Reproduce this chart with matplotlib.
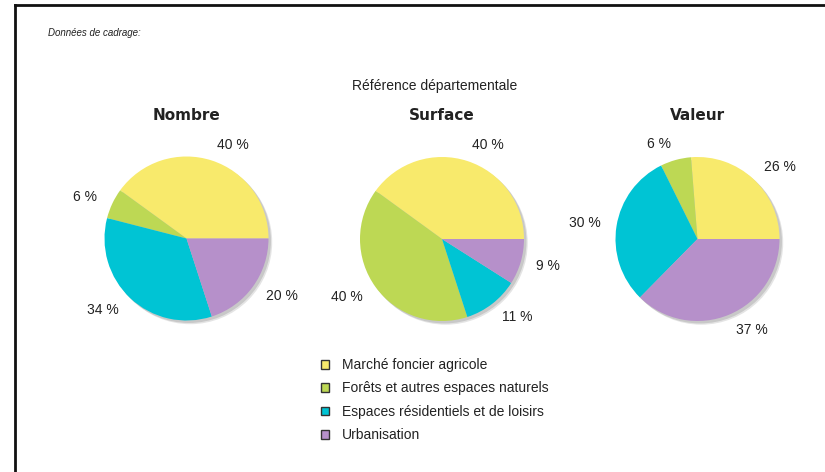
import matplotlib
matplotlib.use("Agg")
import matplotlib.pyplot as plt
from matplotlib.patches import Circle
from matplotlib.lines import Line2D

# Data
categories = [
    "Marché foncier agricole",
    "Forêts et autres espaces naturels",
    "Espaces résidentiels et de loisirs",
    "Urbanisation",
]
nombre = [40, 6, 34, 20]
surface = [40, 40, 11, 9]
valeur = [26, 6, 30, 37]
panel_titles = ["Nombre", "Surface", "Valeur"]
colors = ["#F8EA6C", "#BDD854", "#00C4D4", "#B690CA"]

W, H = 825, 472
fig = plt.figure(figsize=(W / 100, H / 100), dpi=100)
fig.patch.set_facecolor("white")

def fx(px):
    return px / W

def fy(py):
    return 1 - py / H

label_font = "Liberation Sans"

# Frame lines (top and left)
fig.add_artist(Line2D([fx(15), fx(825)], [fy(4.5), fy(4.5)], color="#111111", lw=2.0,
                      transform=fig.transFigure))
fig.add_artist(Line2D([fx(15), fx(15)], [fy(4.5), fy(472)], color="#111111", lw=2.0,
                      transform=fig.transFigure))

fig.text(fx(48), fy(33), "Données de cadrage:", fontsize=7, style="italic",
         family=label_font, ha="left", va="center", color="#222222")
fig.text(fx(435), fy(86), "Référence départementale", fontsize=10,
         family=label_font, ha="center", va="center", color="#222222")

radius_px = 82
box_px = 250
centers = [(186.5, 238.5), (442, 239), (697.5, 239)]
series = [nombre, surface, valeur]

wedges_ref = None
for (cx, cy), vals, title in zip(centers, series, panel_titles):
    ax = fig.add_axes([fx(cx - box_px / 2), fy(cy + box_px / 2), fx(box_px), box_px / H])
    ax.patch.set_alpha(0)
    wedges, texts = ax.pie(
        vals,
        colors=colors,
        labels=[f"{v} %" for v in vals],
        labeldistance=1.2,
        startangle=0,
        counterclock=True,
        wedgeprops=dict(linewidth=0),
        textprops=dict(fontsize=10, family=label_font, color="#222222"),
    )
    # soft drop shadow below the pie
    for off, c in [(0.045, "#e4e4e4"), (0.03, "#c8c8c8")]:
        ax.add_patch(Circle((off, -off), 1.0, color=c, zorder=0, lw=0))
    lim = box_px / 2 / radius_px
    ax.set_xlim(-lim, lim)
    ax.set_ylim(-lim, lim)
    ax.set_aspect("equal")
    ax.axis("off")
    fig.text(fx(cx), fy(115), title, fontsize=11, fontweight="bold",
             family="DejaVu Sans", ha="center", va="center", color="#222222")
    if wedges_ref is None:
        wedges_ref = wedges

leg = fig.legend(
    wedges_ref, categories,
    loc="upper left", bbox_to_anchor=(fx(321), fy(358)),
    frameon=False,
    prop=dict(family=label_font, size=10),
    handlelength=0.6, handleheight=0.6, handletextpad=0.9,
    labelspacing=0.68, borderpad=0, borderaxespad=0,
)
for h in leg.legend_handles:
    h.set_edgecolor("#333333")
    h.set_linewidth(1.0)
for t in leg.get_texts():
    t.set_color("#222222")

fig.savefig("out.png", dpi=100, facecolor="white")
